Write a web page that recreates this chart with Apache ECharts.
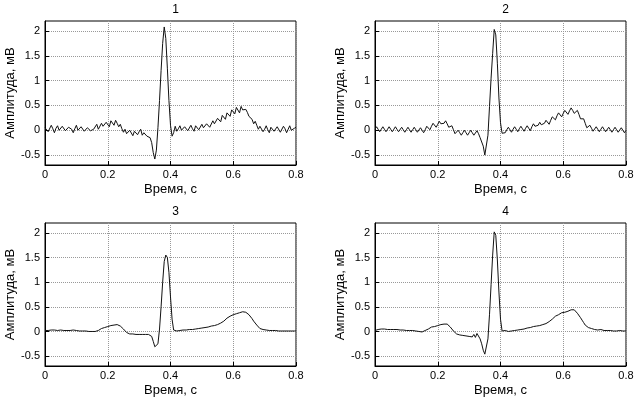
<!DOCTYPE html>
<html>
<head>
<meta charset="utf-8">
<script src="https://cdn.jsdelivr.net/npm/echarts@6/dist/echarts.min.js"></script>
<style>
  html, body { margin: 0; padding: 0; background: #fff; }
  #chart { width: 642px; height: 398px; }
</style>
</head>
<body>
<div id="chart"></div>
<script>
// sampling step of the recordings, s
var step = 0.005;

var xTicks = [0, 0.2, 0.4, 0.6, 0.8];
var yTicks = [-0.5, 0, 0.5, 1, 1.5, 2];
var titles = ['1', '2', '3', '4'];

// 1 - noisy signal
var sig1 = [
  0.05, 0.08, -0.03, 0.01, 0.10, 0.03, -0.05, 0.04, 0.09, 0.00, -0.02, 0.08, 0.11, -0.01, -0.04, 0.06,
  0.09, 0.02, -0.05, 0.03, 0.10, 0.00, -0.03, 0.07, 0.08, -0.02, -0.04, 0.05, 0.09, -0.01, -0.05, 0.02,
  0.06, 0.12, 0.02, 0.05, 0.14, 0.08, 0.04, 0.16, 0.12, 0.07, 0.19, 0.15, 0.10, 0.20, 0.14, 0.07,
  0.12, 0.03, -0.04, 0.02, -0.07, -0.10, 0.00, -0.04, -0.11, -0.02, 0.01, -0.09, -0.03, 0.02, -0.10, -0.05,
  -0.01, -0.12, -0.08,
  -0.15, -0.25, -0.45, -0.58, -0.40, 0.05, 0.60, 1.20, 1.75, 2.08, 1.85, 1.25, 0.60, 0.10, -0.12, -0.05,
  0.08, -0.02, 0.03, 0.09, 0.00, -0.04, 0.07, 0.10, -0.01, 0.02, 0.10, 0.03, -0.02, 0.09, 0.11, 0.01, 0.04,
  0.12, 0.05, 0.02, 0.13, 0.15, 0.06, 0.10, 0.19, 0.13, 0.12, 0.24, 0.20, 0.17, 0.30, 0.27, 0.22,
  0.35, 0.32, 0.28, 0.41, 0.37, 0.33, 0.46, 0.42, 0.35, 0.48, 0.41, 0.38,
  0.42, 0.36, 0.28, 0.30, 0.22, 0.13, 0.18, 0.10, 0.02, 0.08, 0.07, -0.03, 0.02,
  0.09, 0.01, -0.05, 0.06, 0.08, -0.02, -0.03, 0.07, 0.05, -0.04, 0.00, 0.08, 0.03, -0.05, 0.02, 0.09,
  0.00, -0.04, 0.04, 0.06
];

// 2 - signal with 50 Hz interference
var sig2 = [
  0.02, 0.07, 0.02, -0.03, 0.02, 0.07, 0.02, -0.03, 0.02, 0.07, 0.02, -0.03, 0.02, 0.07, 0.02, -0.03,
  0.01, 0.06, 0.01, -0.04, 0.01, 0.06, 0.01, -0.04, 0.01, 0.06, 0.01, -0.04, 0.00, 0.05, 0.00, -0.05,
  0.01, 0.08, 0.05, 0.01, 0.08, 0.14, 0.10, 0.06, 0.12, 0.18, 0.13, 0.09, 0.14, 0.19, 0.13, 0.06,
  0.08, 0.09, 0.01, -0.07, -0.04, 0.00, -0.05, -0.10, -0.05, 0.00, -0.05, -0.10, -0.05, 0.00, -0.05, -0.10,
  -0.06, -0.01, -0.07,
  -0.15, -0.18, -0.32, -0.50, -0.50, -0.10, 0.48, 1.05, 1.55, 2.03, 1.92, 1.35, 0.65, 0.15, -0.06, -0.05,
  -0.05, 0.01, 0.06, 0.01, -0.04, 0.02, 0.07, 0.02, -0.03, 0.03, 0.08, 0.03, -0.02, 0.04, 0.09, 0.04, -0.01,
  0.07, 0.13, 0.08, 0.04, 0.10, 0.16, 0.11, 0.07, 0.14, 0.20, 0.16, 0.12, 0.20, 0.27, 0.24, 0.21,
  0.29, 0.35, 0.31, 0.27, 0.34, 0.40, 0.36, 0.32, 0.39, 0.45, 0.40, 0.34,
  0.38, 0.40, 0.32, 0.23, 0.23, 0.23, 0.14, 0.05, 0.07, 0.10, 0.04, -0.02, 0.02,
  0.07, 0.02, -0.03, 0.02, 0.07, 0.02, -0.03, 0.01, 0.06, 0.01, -0.04, 0.01, 0.06, 0.01, -0.04, 0.00,
  0.05, 0.00, -0.05, 0.00
];

// 3 - filtered signal
var sig3 = [
  0.02, 0.03, 0.02, 0.03, 0.03, 0.02, 0.03, 0.03, 0.02, 0.03, 0.03, 0.03, 0.02, 0.03, 0.02, 0.03,
  0.02, 0.02, 0.03, 0.02, 0.02, 0.02, 0.01, 0.02, 0.01, 0.01, 0.01, 0.00, 0.00, 0.00, 0.00, 0.00,
  0.00, 0.01, 0.02, 0.04, 0.06, 0.07, 0.08, 0.09, 0.10, 0.11, 0.12, 0.12, 0.13, 0.14, 0.14, 0.13,
  0.11, 0.08, 0.05, 0.01, -0.02, -0.04, -0.05, -0.05, -0.05, -0.06, -0.06, -0.06, -0.06, -0.06, -0.06, -0.06,
  -0.06, -0.06, -0.06,
  -0.07, -0.10, -0.20, -0.31, -0.35, -0.25, 0.05, 0.50, 1.00, 1.42, 1.55, 1.50, 1.20, 0.70, 0.25, 0.03,
  0.00, 0.01, 0.02, 0.02, 0.02, 0.03, 0.03, 0.03, 0.03, 0.04, 0.04, 0.04, 0.05, 0.05, 0.05, 0.06, 0.06,
  0.07, 0.07, 0.08, 0.09, 0.09, 0.10, 0.11, 0.12, 0.12, 0.13, 0.14, 0.15, 0.17, 0.19, 0.21, 0.24,
  0.27, 0.29, 0.31, 0.33, 0.34, 0.35, 0.36, 0.37, 0.38, 0.39, 0.40, 0.40,
  0.39, 0.37, 0.34, 0.30, 0.26, 0.21, 0.17, 0.13, 0.09, 0.06, 0.05, 0.04, 0.03,
  0.03, 0.03, 0.02, 0.02, 0.02, 0.02, 0.02, 0.01, 0.01, 0.01, 0.01, 0.01, 0.01, 0.01, 0.01, 0.01,
  0.01, 0.01, 0.01, 0.01
];

// 4 - filtered signal
var sig4 = [
  0.02, 0.03, 0.04, 0.03, 0.05, 0.04, 0.05, 0.04, 0.04, 0.05, 0.04, 0.03, 0.04, 0.03, 0.04, 0.03,
  0.03, 0.02, 0.03, 0.02, 0.02, 0.03, 0.02, 0.01, 0.02, 0.01, 0.01, 0.01, 0.00, 0.00, -0.01, 0.00,
  0.02, 0.04, 0.05, 0.06, 0.09, 0.08, 0.10, 0.09, 0.12, 0.13, 0.14, 0.15, 0.15, 0.15, 0.15, 0.13,
  0.09, 0.05, 0.01, -0.03, -0.05, -0.06, -0.07, -0.07, -0.08, -0.08, -0.09, -0.09, -0.10, -0.07, -0.11, -0.06,
  -0.12, -0.04, -0.08,
  -0.15, -0.25, -0.38, -0.46, -0.42, -0.15, 0.35, 0.95, 1.55, 2.02, 1.95, 1.45, 0.80, 0.25, 0.01, -0.02,
  0.02, 0.04, 0.00, 0.03, 0.01, 0.04, 0.02, 0.05, 0.03, 0.05, 0.04, 0.06, 0.05, 0.07, 0.07, 0.08, 0.08,
  0.09, 0.10, 0.10, 0.11, 0.12, 0.12, 0.13, 0.14, 0.15, 0.16, 0.18, 0.20, 0.22, 0.25, 0.28, 0.31,
  0.33, 0.34, 0.37, 0.38, 0.40, 0.39, 0.42, 0.41, 0.43, 0.44, 0.45, 0.44,
  0.41, 0.37, 0.33, 0.28, 0.23, 0.18, 0.13, 0.10, 0.08, 0.07, 0.06, 0.05, 0.04,
  0.04, 0.03, 0.03, 0.04, 0.03, 0.02, 0.03, 0.02, 0.03, 0.02, 0.02, 0.01, 0.02, 0.01, 0.01, 0.02,
  0.01, 0.01, 0.00, 0.01
];

var signals = [sig1, sig2, sig3, sig4];

// plot boxes: [left, top]
var boxes = [[45, 21], [375, 21], [45, 223], [375, 223]];
var boxW = 251, boxH = 144;

var font = 'Liberation Sans, Arial, sans-serif';

function toPairs(arr) {
  return arr.map(function (v, i) {
    return [+(i * step).toFixed(3), v];
  });
}

var option = {
  animation: false,
  backgroundColor: '#fff',
  title: [],
  grid: [],
  xAxis: [],
  yAxis: [],
  series: []
};

boxes.forEach(function (b, i) {
  option.title.push({
    text: titles[i],
    left: b[0] + boxW / 2,
    top: b[1] - 22,
    textAlign: 'center',
    textStyle: { fontSize: 12, fontWeight: 'normal', color: '#000', fontFamily: font }
  });

  option.grid.push({
    left: b[0], top: b[1], width: boxW, height: boxH,
    show: true, borderColor: '#000', borderWidth: 1, backgroundColor: '#fff'
  });

  option.xAxis.push({
    type: 'value',
    gridIndex: i,
    min: 0,
    max: 0.8,
    interval: 0.2,
    name: 'Время, с',
    nameLocation: 'middle',
    nameGap: 18,
    nameTextStyle: { fontSize: 13, color: '#000', fontFamily: font },
    axisLine: { show: true, onZero: false, lineStyle: { color: '#000', width: 1 } },
    axisTick: { show: true, inside: true, length: 4, lineStyle: { color: '#000' } },
    axisLabel: { fontSize: 11, color: '#000', fontFamily: font, margin: 4 },
    splitLine: { show: true, lineStyle: { type: 'dotted', color: '#999', width: 1 } }
  });

  option.yAxis.push({
    type: 'value',
    gridIndex: i,
    min: -0.7,
    max: 2.2,
    name: 'Амплитуда, мВ',
    nameLocation: 'middle',
    nameGap: 28,
    nameTextStyle: { fontSize: 13, color: '#000', fontFamily: font },
    axisLine: { show: true, onZero: false, lineStyle: { color: '#000', width: 1 } },
    axisTick: { show: true, inside: true, length: 4, customValues: yTicks, lineStyle: { color: '#000' } },
    axisLabel: { fontSize: 11, color: '#000', fontFamily: font, margin: 5, customValues: yTicks },
    splitLine: { show: true, lineStyle: { type: 'dotted', color: '#999', width: 1 } }
  });

  option.series.push({
    type: 'line',
    xAxisIndex: i,
    yAxisIndex: i,
    showSymbol: false,
    symbol: 'none',
    lineStyle: { color: '#111', width: 1 },
    data: toPairs(signals[i])
  });
});

var chart = echarts.init(document.getElementById('chart'), null, { renderer: 'canvas' });
chart.setOption(option);
</script>
</body>
</html>
